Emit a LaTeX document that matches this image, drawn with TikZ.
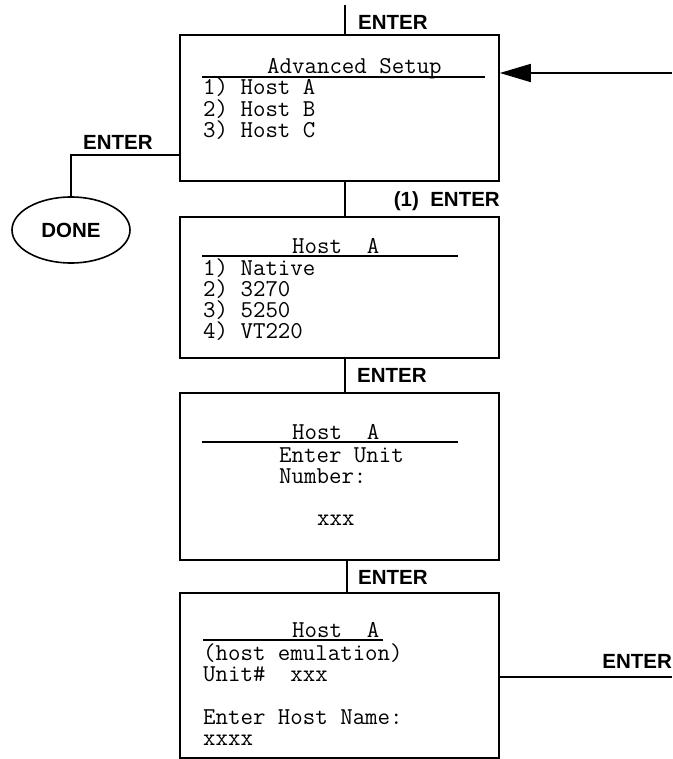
\documentclass[tikz,border=0pt]{standalone}
\usepackage{fontspec}
\setmainfont{Liberation Sans}
\setmonofont{Latin Modern Mono}
\usetikzlibrary{arrows.meta,shapes.geometric}
\begin{document}
\begin{tikzpicture}[x=1pt,y=-1pt,
  scr/.style={rectangle,draw,line width=1.6pt,inner sep=0pt,minimum width=319pt},
  mono/.style={anchor=base west,inner sep=0pt,font=\ttfamily\fontsize{24.2}{24}\selectfont},
  lbl/.style={anchor=base west,inner sep=0pt,font=\bfseries\fontsize{20.5}{20}\selectfont},
  wire/.style={line width=1.6pt},
  uline/.style={line width=1.6pt}]
\useasboundingbox (0,0) rectangle (672,759);

% screens
\node[scr,minimum height=146pt] (b1) at (339.5,108) {};
\node[scr,minimum height=141pt] (b2) at (339.5,287.5) {};
\node[scr,minimum height=167pt] (b3) at (339.5,476.5) {};
\node[scr,minimum height=165pt] (b4) at (339.5,675.5) {};

% done
\node[draw,ellipse,line width=1.6pt,minimum width=118pt,minimum height=66pt,inner sep=0pt,
      font=\bfseries\fontsize{20.5}{20}\selectfont] (done) at (71,230) {DONE};

% connectors
\coordinate (topin) at (345,5);
\coordinate (v1) at (345,0);
\coordinate (v2) at (347,0);
\coordinate (rin) at (672,73);
\coordinate (lj) at (0,155);
\coordinate (rout) at (672,677);
\draw[wire] (topin) -- (topin |- b1.north);
\draw[wire] (b1.south -| v1) -- (b2.north -| v1);
\draw[wire] (b2.south -| v1) -- (b3.north -| v1);
\draw[wire] (b3.south -| v2) -- (b4.north -| v2);
\draw[wire,-{Triangle[length=31pt,width=18pt]}] (rin) -- (rin -| b1.east);
\draw[wire] (b1.west |- lj) -| (done.north);
\draw[wire] (b4.east |- rout) -- (rout);

% labels
\node[lbl] (e0) at (358,30) {ENTER};
\node[lbl,anchor=base east] (e1) at (500,207) {(1)\ \ ENTER};
\node[lbl] (e2) at (357,382) {ENTER};
\node[lbl] (e3) at (358,584) {ENTER};
\node[lbl] (e4) at (83,150) {ENTER};
\node[lbl,anchor=base east] (e5) at (672,668) {ENTER};

% screen 1
\node[mono] (s1t) at (267,74) {Advanced Setup};
\draw[uline] (202,77) -- (485,77);
\node[mono] (s1a) at (203,95) {1) Host A};
\node[mono] (s1b) at (203,117) {2) Host B};
\node[mono] (s1c) at (203,138) {3) Host C};

% screen 2
\node[mono] (s2t) at (292,253) {Host\ \ A};
\draw[uline] (202,256) -- (458,256);
\node[mono] (s2a) at (203,275) {1) Native};
\node[mono] (s2b) at (203,296) {2) 3270};
\node[mono] (s2c) at (203,317) {3) 5250};
\node[mono] (s2d) at (203,338) {4) VT220};

% screen 3
\node[mono] (s3t) at (292,439) {Host\ \ A};
\draw[uline] (202,442) -- (458,442);
\node[mono] (s3a) at (279,462) {Enter Unit};
\node[mono] (s3b) at (279,483) {Number:};
\node[mono] (s3c) at (317,525) {xxx};

% screen 4
\node[mono] (s4t) at (292,637) {Host\ \ A};
\draw[uline] (203,640) -- (383,640);
\node[mono] (s4a) at (203,660) {(host emulation)};
\node[mono] (s4b) at (203,681) {Unit\#\ \ xxx};
\node[mono] (s4c) at (203,724) {Enter Host Name:};
\node[mono] (s4d) at (203,745) {xxxx};
\end{tikzpicture}
\end{document}
